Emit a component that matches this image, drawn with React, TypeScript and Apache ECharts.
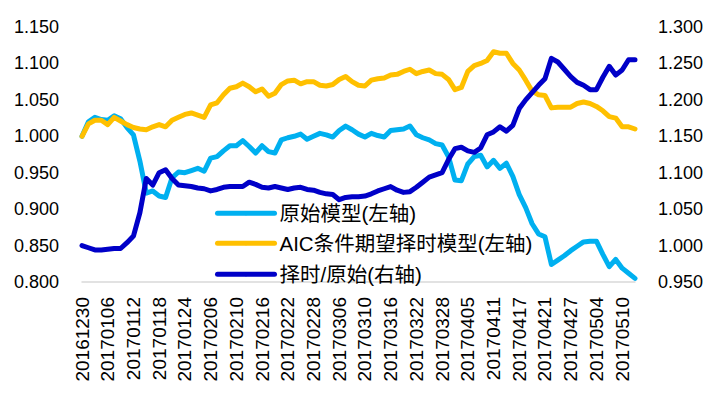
import React, { useEffect, useRef } from "react";
import * as echarts from "echarts";

const dates = [
  "20161230", "20170103", "20170104", "20170105", "20170106", "20170109", "20170110", "20170111", "20170112", "20170113",
  "20170116", "20170117", "20170118", "20170119", "20170120", "20170123", "20170124", "20170125", "20170126", "20170203",
  "20170206", "20170207", "20170208", "20170209", "20170210", "20170213", "20170214", "20170215", "20170216", "20170217",
  "20170220", "20170221", "20170222", "20170223", "20170224", "20170227", "20170228", "20170301", "20170302", "20170303",
  "20170306", "20170307", "20170308", "20170309", "20170310", "20170313", "20170314", "20170315", "20170316", "20170317",
  "20170320", "20170321", "20170322", "20170323", "20170324", "20170327", "20170328", "20170329", "20170330", "20170331",
  "20170405", "20170406", "20170407", "20170410", "20170411", "20170412", "20170413", "20170414", "20170417", "20170418",
  "20170419", "20170420", "20170421", "20170424", "20170425", "20170426", "20170427", "20170428", "20170502", "20170503",
  "20170504", "20170505", "20170508", "20170509", "20170510", "20170511", "20170512",
];

const origValues = [
  1.000, 1.020, 1.026, 1.023, 1.022, 1.028, 1.024, 1.012, 1.002, 0.966,
  0.922, 0.925, 0.918, 0.916, 0.943, 0.951, 0.950, 0.953, 0.956, 0.952,
  0.970, 0.972, 0.980, 0.987, 0.987, 0.994, 0.986, 0.977, 0.987, 0.979,
  0.977, 0.995, 0.998, 1.000, 1.003, 0.996, 1.000, 1.004, 1.002, 0.999,
  1.008, 1.014, 1.009, 1.003, 0.999, 1.004, 1.001, 0.999, 1.008, 1.009,
  1.010, 1.014, 1.002, 0.998, 0.995, 0.990, 0.988, 0.972, 0.940, 0.939,
  0.962, 0.972, 0.974, 0.958, 0.967, 0.956, 0.963, 0.945, 0.920, 0.902,
  0.880, 0.866, 0.862, 0.824, 0.830, 0.836, 0.843, 0.849, 0.855, 0.856,
  0.856, 0.838, 0.821, 0.831, 0.819, 0.812, 0.805,
];

const aicValues = [
  1.000, 1.017, 1.022, 1.022, 1.016, 1.026, 1.021, 1.016, 1.012, 1.010,
  1.009, 1.013, 1.016, 1.013, 1.022, 1.026, 1.030, 1.032, 1.029, 1.026,
  1.043, 1.046, 1.057, 1.066, 1.068, 1.073, 1.068, 1.061, 1.065, 1.055,
  1.059, 1.071, 1.076, 1.077, 1.072, 1.075, 1.075, 1.070, 1.069, 1.071,
  1.078, 1.082, 1.075, 1.070, 1.069, 1.077, 1.079, 1.080, 1.084, 1.085,
  1.089, 1.092, 1.086, 1.089, 1.091, 1.086, 1.085, 1.078, 1.064, 1.067,
  1.089, 1.097, 1.100, 1.104, 1.116, 1.114, 1.114, 1.100, 1.091, 1.077,
  1.062, 1.057, 1.056, 1.039, 1.040, 1.040, 1.040, 1.045, 1.047, 1.045,
  1.041, 1.035, 1.027, 1.025, 1.013, 1.013, 1.010,
];

const ratioValues = [
  1.000, 0.997, 0.994, 0.994, 0.995, 0.996, 0.996, 1.004, 1.013, 1.045,
  1.092, 1.083, 1.100, 1.104, 1.092, 1.083, 1.082, 1.081, 1.079, 1.078,
  1.075, 1.077, 1.080, 1.081, 1.081, 1.081, 1.087, 1.084, 1.080, 1.079,
  1.081, 1.079, 1.077, 1.079, 1.080, 1.077, 1.076, 1.073, 1.071, 1.070,
  1.063, 1.066, 1.067, 1.067, 1.068, 1.071, 1.075, 1.078, 1.081, 1.076,
  1.073, 1.074, 1.080, 1.087, 1.094, 1.097, 1.100, 1.118, 1.133, 1.135,
  1.130, 1.128, 1.134, 1.152, 1.156, 1.163, 1.157, 1.165, 1.188, 1.200,
  1.210, 1.220, 1.229, 1.257, 1.252, 1.242, 1.232, 1.224, 1.220, 1.214,
  1.214, 1.231, 1.246, 1.234, 1.241, 1.255, 1.255,
];

const seriesNames = ["原始模型(左轴)", "AIC条件期望择时模型(左轴)", "择时/原始(右轴)"];
const seriesColors = ["#00B0F0", "#FFC000", "#0000C8"];

export default function App() {
  const ref = useRef<HTMLDivElement>(null);

  useEffect(() => {
    if (!ref.current) return;
    const chart = echarts.init(ref.current, null, { renderer: "svg" });
    const font = '"Liberation Sans", Arial, "Noto Sans CJK SC", sans-serif';
    const legendFont = '"Liberation Sans", "Noto Sans CJK SC", sans-serif';
    const legendTops = [203, 233, 264];
    const seriesData = [origValues, aicValues, ratioValues];
    const axisIdx = [0, 0, 1];

    chart.setOption({
      animation: false,
      backgroundColor: "#ffffff",
      grid: { left: 82, right: 88, top: 27, bottom: 117, containLabel: false },
      legend: seriesNames.map((n, k) => ({
        data: [n],
        orient: "horizontal",
        left: 215,
        top: legendTops[k],
        padding: 0,
        itemWidth: 57,
        itemHeight: 5,
        selectedMode: false,
        lineStyle: { width: 5, cap: "round" },
        textStyle: { fontSize: 20.5, color: "#000", fontFamily: legendFont },
      })),
      xAxis: {
        type: "category",
        data: dates,
        boundaryGap: false,
        axisLine: { show: true, lineStyle: { color: "#D9D9D9", width: 1.5 } },
        axisTick: { show: false },
        splitLine: { show: false },
        axisLabel: {
          interval: 3,
          rotate: 90,
          fontSize: 19,
          color: "#000",
          fontFamily: font,
          margin: 15,
        },
      },
      yAxis: [
        {
          type: "value",
          position: "left",
          min: 0.8,
          max: 1.15,
          interval: 0.05,
          axisLine: { show: false },
          axisTick: { show: false },
          splitLine: { show: false },
          axisLabel: {
            formatter: (v: number) => v.toFixed(3),
            fontSize: 18,
            color: "#000",
            fontFamily: font,
            margin: 23,
          },
        },
        {
          type: "value",
          position: "right",
          min: 0.95,
          max: 1.3,
          interval: 0.05,
          axisLine: { show: false },
          axisTick: { show: false },
          splitLine: { show: false },
          axisLabel: {
            formatter: (v: number) => v.toFixed(3),
            fontSize: 18,
            color: "#000",
            fontFamily: font,
            margin: 23,
          },
        },
      ],
      series: seriesNames.map((n, k) => ({
        name: n,
        type: "line",
        data: seriesData[k],
        yAxisIndex: axisIdx[k],
        symbol: "none",
        smooth: false,
        itemStyle: { color: seriesColors[k] },
        lineStyle: { width: 5, color: seriesColors[k], cap: "round", join: "round" },
        emphasis: { disabled: true },
      })),
    });

    return () => {
      chart.dispose();
    };
  }, []);

  return (
    <div
      ref={ref}
      style={{ position: "fixed", left: 0, top: 0, width: 723, height: 399, background: "#fff" }}
    />
  );
}
